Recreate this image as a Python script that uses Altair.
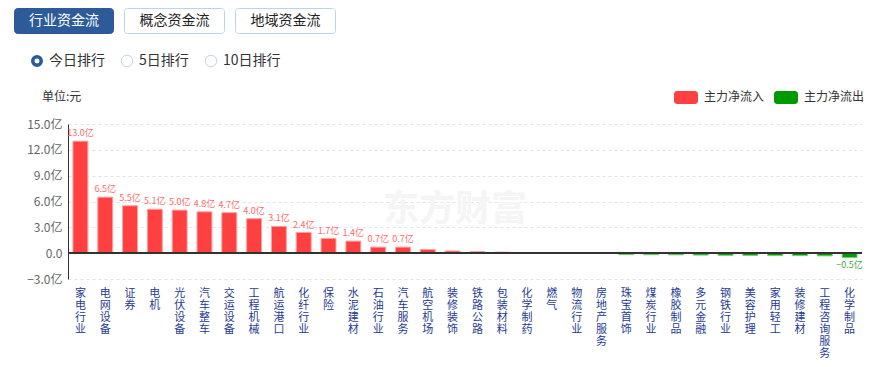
import altair as alt
import pandas as pd

categories = ["家电行业", "电网设备", "证券", "电机", "光伏设备", "汽车整车", "交运设备", "工程机械",
              "航运港口", "化纤行业", "保险", "水泥建材", "石油行业", "汽车服务", "航空机场", "装修装饰",
              "铁路公路", "包装材料", "化学制药", "燃气", "物流行业", "房地产服务", "珠宝首饰", "煤炭行业",
              "橡胶制品", "多元金融", "钢铁行业", "美容护理", "家用轻工", "装修建材", "工程咨询服务", "化学制品"]
values = [13.0, 6.5, 5.5, 5.1, 5.0, 4.8, 4.7, 4.0,
          3.1, 2.4, 1.7, 1.4, 0.7, 0.7, 0.42, 0.25,
          0.18, 0.12, 0.07, 0.02, 0.01, -0.04, -0.17, -0.18,
          -0.19, -0.22, -0.25, -0.26, -0.28, -0.29, -0.31, -0.5]
y_ticks = [-3, 0, 3, 6, 9, 12, 15]
buttons = ["行业资金流", "概念资金流", "地域资金流"]
radios = ["今日排行", "5日排行", "10日排行"]
legend_labels = ["主力净流入", "主力净流出"]
unit_label = "单位:元"
watermark = "东方财富"

FONT = "Noto Sans CJK SC"
RED, GREEN = "#ff4040", "#029c02"
W, H = 794, 155

df = pd.DataFrame({"cat": categories, "v": values})
base = alt.Chart(df)

x_enc = alt.X(
    "cat:N", sort=categories,
    scale=alt.Scale(paddingInner=0.4, paddingOuter=0.2),
    axis=alt.Axis(title=None, labelAngle=0, labelExpr="split(datum.label, '')",
                  labelBaseline="top", labelAlign="center", labelLineHeight=12,
                  labelFontSize=11, labelColor="#1f3a93", labelPadding=8,
                  labelFont=FONT, labelOverlap=False, domain=False, ticks=False, grid=False),
)
y_enc = alt.Y(
    "v:Q",
    scale=alt.Scale(domain=[-3, 15], nice=False, zero=False),
    axis=alt.Axis(values=y_ticks, tickCount=len(y_ticks), title=None,
                  labelExpr="format(datum.value, '.1f') + (datum.value == 0 ? '' : '亿')",
                  grid=True, gridDash=[3, 3], gridColor="#e3e3e3", domainColor="#333333",
                  ticks=False, labelColor="#666666", labelFontSize=12, labelPadding=6,
                  labelFont=FONT, labelOverlap=False, labelFlush=False),
)

layers = []

# watermark
layers.append(
    alt.Chart(pd.DataFrame({"t": [watermark]})).mark_text(
        font=FONT, fontSize=36, fontWeight="bold", color="#f5f5f5", align="center", baseline="middle"
    ).encode(text="t:N", x=alt.value(387), y=alt.value(86))
)

bars = base.mark_bar(strokeWidth=1).encode(
    x=x_enc, y=y_enc, y2=alt.datum(0),
    fill=alt.condition("datum.v >= 0", alt.value(RED), alt.value(GREEN)),
    stroke=alt.condition("datum.v >= 0", alt.value("#ff9c9c"), alt.value("#74cc74")),
)
layers.append(bars)

zero_rule = base.mark_rule(color="#333333", strokeWidth=1).encode(y=alt.datum(0))
layers.append(zero_rule)

pos_labels = base.transform_filter("datum.v >= 0.5").transform_calculate(
    lbl="format(datum.v, '.1f') + '亿'"
).mark_text(font=FONT, fontSize=9, color="#ff6b6b", baseline="bottom", dy=-3).encode(
    x=x_enc, y=y_enc, text="lbl:N"
)
neg_labels = base.transform_filter("datum.v <= -0.5").transform_calculate(
    lbl="format(datum.v, '.1f') + '亿'"
).mark_text(font=FONT, fontSize=9, color="#3ea83e", baseline="top", dy=4).encode(
    x=x_enc, y=y_enc, text="lbl:N"
)
layers += [pos_labels, neg_labels]

one = pd.DataFrame({"k": [0]})

# buttons
btn_x = [(-54, 46), (56, 157), (167, 268)]
for i, (label, (bx0, bx1)) in enumerate(zip(buttons, btn_x)):
    active = i == 0
    layers.append(
        alt.Chart(one).mark_rect(
            cornerRadius=3,
            fill="#2d5a98" if active else "#ffffff",
            stroke="#2d5a98" if active else "#bcd3ec", strokeWidth=1,
        ).encode(x=alt.value(bx0 + 0.5), x2=alt.value(bx1 - 0.5), y=alt.value(-115.5), y2=alt.value(-90.5))
    )
    layers.append(
        alt.Chart(pd.DataFrame({"t": [label]})).mark_text(
            font=FONT, fontSize=14, color="#ffffff" if active else "#222222",
            align="center", baseline="middle"
        ).encode(text="t:N", x=alt.value((bx0 + bx1) / 2), y=alt.value(-103))
    )

# radios
radio_cx = [-31, 59, 143]
for i, (label, cx) in enumerate(zip(radios, radio_cx)):
    active = i == 0
    layers.append(
        alt.Chart(one).mark_point(
            shape="circle", filled=False, fill="#ffffff", fillOpacity=1, opacity=1,
            stroke="#2d5a98" if active else "#c3d6ec", strokeWidth=3.5 if active else 1,
            size=72 if active else 132,
        ).encode(x=alt.value(cx), y=alt.value(-63))
    )
    layers.append(
        alt.Chart(pd.DataFrame({"t": [label]})).mark_text(
            font=FONT, fontSize=14, color="#333333", align="left", baseline="middle"
        ).encode(text="t:N", x=alt.value(cx + 12), y=alt.value(-63))
    )

# unit label
layers.append(
    alt.Chart(pd.DataFrame({"t": [unit_label]})).mark_text(
        font=FONT, fontSize=12, color="#333333", align="left", baseline="middle"
    ).encode(text="t:N", x=alt.value(-26), y=alt.value(-27))
)

# legend
leg_x = [606, 706]
for label, lx, col in zip(legend_labels, leg_x, [RED, "#009900"]):
    layers.append(
        alt.Chart(one).mark_rect(cornerRadius=3, fill=col).encode(
            x=alt.value(lx), x2=alt.value(lx + 24), y=alt.value(-33), y2=alt.value(-20)
        )
    )
    layers.append(
        alt.Chart(pd.DataFrame({"t": [label]})).mark_text(
            font=FONT, fontSize=12, color="#333333", align="left", baseline="middle"
        ).encode(text="t:N", x=alt.value(lx + 30), y=alt.value(-27))
    )

chart = alt.layer(*layers).properties(
    width=W, height=H,
    padding={"left": 60, "top": 116, "right": 16, "bottom": 79},
    autosize=alt.AutoSizeParams(type="none"),
).configure(font=FONT).configure_view(stroke=None).configure_axisY(labelOverlap=False)

chart.save("out.html", embed_options={"renderer": "svg", "actions": False})
